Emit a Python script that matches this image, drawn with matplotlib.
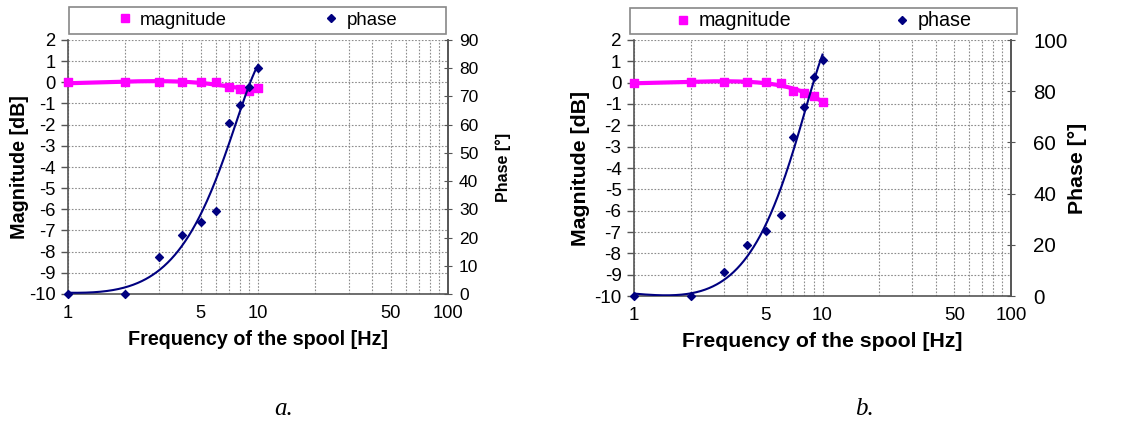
import numpy as np
import matplotlib
matplotlib.use('agg')
import matplotlib.pyplot as plt
from matplotlib.patches import Rectangle
from matplotlib.lines import Line2D
from matplotlib.ticker import FixedLocator, NullFormatter

plt.rcParams['font.family'] = ['Liberation Sans', 'DejaVu Sans']

# data
freq = [1, 2, 3, 4, 5, 6, 7, 8, 9, 10]
mag_a = [0.0, 0.0, 0.0, 0.0, 0.02, 0.0, -0.2, -0.33, -0.4, -0.29]
phase_a = [0.0, 0.0, 13.0, 20.8, 25.4, 29.5, 60.5, 67.0, 73.2, 80.2]
mag_b = [0.0, 0.02, 0.02, 0.02, 0.02, 0.0, -0.4, -0.5, -0.62, -0.89]
phase_b = [0.0, 0.0, 9.5, 20.0, 25.2, 31.5, 62.2, 73.9, 85.4, 92.3]

mag_ticks = list(range(-10, 3))
phase_ticks_a = list(range(0, 91, 10))
phase_ticks_b = list(range(0, 101, 20))
x_labels = {1: '1', 5: '5', 10: '10', 50: '50', 100: '100'}

MAG_C = '#ff00ff'
PH_C = '#000080'
GRID_C = '#8c8c8c'

fig = plt.figure(figsize=(11.32, 4.23), dpi=100)


def panel(rect, mag, phase, pticks, pmax, fs_tick, fs_rtick, fs_lab, fs_ph, fs_leg,
          legbox, caption, capx, ylpad, rpad, phpad):
    ax = fig.add_axes(rect)
    ax.set_xscale('log')
    ax.set_xlim(1, 100)
    ax.set_ylim(-10, 2)
    ax.set_yticks(mag_ticks)
    ax.set_yticklabels([str(t) for t in mag_ticks], fontsize=fs_tick)
    major = [1, 2, 3, 4, 5, 6, 7, 8, 9, 10, 20, 30, 40, 50, 60, 70, 80, 90, 100]
    ax.xaxis.set_major_locator(FixedLocator(major))
    ax.set_xticklabels([x_labels.get(m, '') for m in major], fontsize=fs_tick)
    ax.xaxis.set_minor_formatter(NullFormatter())
    ax.tick_params(axis='x', which='both', length=0, pad=8)
    ax.tick_params(axis='y', length=5, width=1, color='#555555', pad=4)
    ax.grid(True, which='major', color=GRID_C, linestyle=(0, (1.5, 1.5)), linewidth=0.8)
    ax.spines['top'].set_visible(False)
    for s in ['left', 'right', 'bottom']:
        ax.spines[s].set_color('#555555')
        ax.spines[s].set_linewidth(1.2)
    ax.set_xlabel('Frequency of the spool [Hz]', fontsize=fs_lab, fontweight='bold', labelpad=6)
    ax.set_ylabel('Magnitude [dB]', fontsize=fs_lab, fontweight='bold', labelpad=ylpad)

    fx = np.linspace(1, 10, 300)
    cm = np.polyfit(freq, mag, 3)
    ax.plot(fx, np.polyval(cm, fx), color=MAG_C, lw=3, zorder=3)
    ax.scatter(freq, mag, marker='s', s=40, color=MAG_C, zorder=4, clip_on=False)

    ax2 = ax.twinx()
    ax2.set_ylim(0, pmax)
    ax2.set_yticks(pticks)
    ax2.set_yticklabels([str(t) for t in pticks], fontsize=fs_rtick)
    ax2.tick_params(axis='y', length=6, direction='inout', color='#555555', pad=rpad)
    for s in ['top', 'left', 'bottom']:
        ax2.spines[s].set_visible(False)
    ax2.spines['right'].set_color('#555555')
    ax2.spines['right'].set_linewidth(1.2)
    cp = np.polyfit(freq, phase, 3)
    ax2.plot(fx, np.polyval(cp, fx), color=PH_C, lw=1.5, zorder=3)
    ax2.scatter(freq, phase, marker='D', s=16, color=PH_C, zorder=4, clip_on=False)
    ax2.set_ylabel('Phase [°]', fontsize=fs_ph, fontweight='bold', labelpad=phpad)

    # legend frame and entries
    fig.patches.append(Rectangle((legbox[0], legbox[1]), legbox[2], legbox[3],
                                 transform=fig.transFigure, fill=False,
                                 edgecolor='#888888', lw=1.2))
    handles = [Line2D([], [], ls='none', marker='s', ms=6, color=MAG_C),
               Line2D([], [], ls='none', marker='D', ms=4.5, color=PH_C)]
    fig.legend(handles, ['magnitude', 'phase'], ncol=2, frameon=False,
               loc='center', bbox_to_anchor=(legbox[0] + legbox[2] / 2, legbox[1] + legbox[3] / 2),
               bbox_transform=fig.transFigure, fontsize=fs_leg,
               handlelength=0.8, handletextpad=0.4, columnspacing=5.2,
               borderaxespad=0, borderpad=0)
    fig.text(capx, 0.033, caption, fontsize=18, style='italic', family='Liberation Serif',
             ha='center', va='center')
    return ax


panel([68 / 1132, 129 / 423, 380 / 1132, 254 / 423], mag_a, phase_a, phase_ticks_a, 90,
      13.2, 12.5, 14.2, 11.5, 13.4, [69 / 1132, 389 / 423, 377 / 1132, 27 / 423], 'a.', 284 / 1132,
      0, 5, 12)
panel([634 / 1132, 127 / 423, 377 / 1132, 256 / 423], mag_b, phase_b, phase_ticks_b, 100,
      13.6, 14.8, 15.3, 15.3, 14.2, [630 / 1132, 389 / 423, 387 / 1132, 26 / 423], 'b.', 864 / 1132,
      3, 13, 0)

fig.savefig('out.png', dpi=100, facecolor='white')
